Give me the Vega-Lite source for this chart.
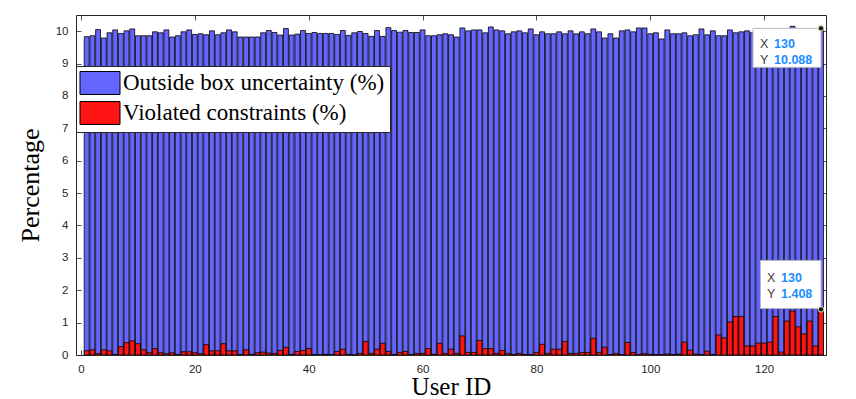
{
  "$schema": "https://vega.github.io/schema/vega-lite/v6.json",
  "autosize": {"type": "none"},
  "width": 750,
  "height": 340,
  "padding": {"left": 76, "top": 15, "right": 30, "bottom": 44},
  "background": "white",
  "config": {
    "view": {"stroke": null},
    "axis": {"grid": false, "zindex": 1, "labelFont": "Liberation Sans", "labelFontSize": 11.5, "labelColor": "#262626", "tickColor": "#262626", "domainColor": "#262626", "tickWidth": 0.8, "domainWidth": 1, "tickSize": -5}
  },
  "datasets": {
    "outside": [
      {"user":1,"pct":9.83},{"user":2,"pct":9.86},{"user":3,"pct":10.05},{"user":4,"pct":9.79},{"user":5,"pct":9.95},
      {"user":6,"pct":10.04},{"user":7,"pct":9.93},{"user":8,"pct":10.01},{"user":9,"pct":10.07},{"user":10,"pct":9.86},
      {"user":11,"pct":9.86},{"user":12,"pct":9.86},{"user":13,"pct":9.98},{"user":14,"pct":9.95},{"user":15,"pct":10.04},
      {"user":16,"pct":9.82},{"user":17,"pct":9.86},{"user":18,"pct":9.98},{"user":19,"pct":10.04},{"user":20,"pct":9.9},
      {"user":21,"pct":9.92},{"user":22,"pct":9.89},{"user":23,"pct":10.01},{"user":24,"pct":9.89},{"user":25,"pct":9.95},
      {"user":26,"pct":10.04},{"user":27,"pct":9.98},{"user":28,"pct":9.82},{"user":29,"pct":9.82},{"user":30,"pct":9.82},
      {"user":31,"pct":9.82},{"user":32,"pct":9.95},{"user":33,"pct":10.02},{"user":34,"pct":9.96},{"user":35,"pct":9.88},
      {"user":36,"pct":10.08},{"user":37,"pct":9.88},{"user":38,"pct":9.91},{"user":39,"pct":10.02},{"user":40,"pct":9.93},
      {"user":41,"pct":9.96},{"user":42,"pct":9.93},{"user":43,"pct":9.93},{"user":44,"pct":9.93},{"user":45,"pct":9.9},
      {"user":46,"pct":10.02},{"user":47,"pct":9.87},{"user":48,"pct":9.95},{"user":49,"pct":9.99},{"user":50,"pct":9.93},
      {"user":51,"pct":9.84},{"user":52,"pct":10.02},{"user":53,"pct":9.84},{"user":54,"pct":10.11},{"user":55,"pct":10.02},
      {"user":56,"pct":9.97},{"user":57,"pct":10.02},{"user":58,"pct":9.96},{"user":59,"pct":9.96},{"user":60,"pct":10.04},
      {"user":61,"pct":9.86},{"user":62,"pct":9.86},{"user":63,"pct":9.89},{"user":64,"pct":9.92},{"user":65,"pct":9.89},
      {"user":66,"pct":9.82},{"user":67,"pct":10.1},{"user":68,"pct":10.01},{"user":69,"pct":10.04},{"user":70,"pct":10.04},
      {"user":71,"pct":9.95},{"user":72,"pct":10.13},{"user":73,"pct":10.04},{"user":74,"pct":10.01},{"user":75,"pct":9.92},
      {"user":76,"pct":9.98},{"user":77,"pct":10.01},{"user":78,"pct":9.95},{"user":79,"pct":10.07},{"user":80,"pct":9.89},
      {"user":81,"pct":9.98},{"user":82,"pct":9.92},{"user":83,"pct":9.92},{"user":84,"pct":9.98},{"user":85,"pct":9.92},
      {"user":86,"pct":10.01},{"user":87,"pct":9.92},{"user":88,"pct":9.98},{"user":89,"pct":9.92},{"user":90,"pct":10.07},
      {"user":91,"pct":9.98},{"user":92,"pct":9.79},{"user":93,"pct":9.92},{"user":94,"pct":9.79},{"user":95,"pct":10.01},
      {"user":96,"pct":10.04},{"user":97,"pct":9.98},{"user":98,"pct":10.1},{"user":99,"pct":10.1},{"user":100,"pct":9.92},
      {"user":101,"pct":9.95},{"user":102,"pct":9.76},{"user":103,"pct":10.04},{"user":104,"pct":9.92},{"user":105,"pct":9.92},
      {"user":106,"pct":9.95},{"user":107,"pct":9.86},{"user":108,"pct":9.89},{"user":109,"pct":10.07},{"user":110,"pct":9.89},
      {"user":111,"pct":10.01},{"user":112,"pct":9.86},{"user":113,"pct":9.86},{"user":114,"pct":10.04},{"user":115,"pct":9.95},
      {"user":116,"pct":9.98},{"user":117,"pct":10.01},{"user":118,"pct":9.95},{"user":119,"pct":9.9},{"user":120,"pct":9.95},
      {"user":121,"pct":9.88},{"user":122,"pct":10.0},{"user":123,"pct":9.92},{"user":124,"pct":9.97},{"user":125,"pct":10.15},
      {"user":126,"pct":9.9},{"user":127,"pct":9.95},{"user":128,"pct":9.88},{"user":129,"pct":9.96},{"user":130,"pct":10.088}
    ],
    "violated": [
      {"user":1,"pct":0.13},{"user":2,"pct":0.16},{"user":3,"pct":0.04},{"user":4,"pct":0.16},{"user":5,"pct":0.13},
      {"user":6,"pct":0.01},{"user":7,"pct":0.26},{"user":8,"pct":0.38},{"user":9,"pct":0.44},{"user":10,"pct":0.35},
      {"user":11,"pct":0.16},{"user":12,"pct":0.07},{"user":13,"pct":0.2},{"user":14,"pct":0.07},{"user":15,"pct":0.04},
      {"user":16,"pct":0.07},{"user":17,"pct":0.01},{"user":18,"pct":0.1},{"user":19,"pct":0.1},{"user":20,"pct":0.07},
      {"user":21,"pct":0.04},{"user":22,"pct":0.32},{"user":23,"pct":0.13},{"user":24,"pct":0.13},{"user":25,"pct":0.35},
      {"user":26,"pct":0.13},{"user":27,"pct":0.13},{"user":28,"pct":0.01},{"user":29,"pct":0.16},{"user":30,"pct":0.02},
      {"user":31,"pct":0.07},{"user":32,"pct":0.09},{"user":33,"pct":0.06},{"user":34,"pct":0.05},{"user":35,"pct":0.14},
      {"user":36,"pct":0.24},{"user":37,"pct":0.02},{"user":38,"pct":0.11},{"user":39,"pct":0.14},{"user":40,"pct":0.2},
      {"user":41,"pct":0.01},{"user":42,"pct":0.0},{"user":43,"pct":0.02},{"user":44,"pct":0.0},{"user":45,"pct":0.11},
      {"user":46,"pct":0.18},{"user":47,"pct":0.02},{"user":48,"pct":0.0},{"user":49,"pct":0.05},{"user":50,"pct":0.42},
      {"user":51,"pct":0.05},{"user":52,"pct":0.18},{"user":53,"pct":0.36},{"user":54,"pct":0.11},{"user":55,"pct":0.01},
      {"user":56,"pct":0.08},{"user":57,"pct":0.11},{"user":58,"pct":0.01},{"user":59,"pct":0.05},{"user":60,"pct":0.05},
      {"user":61,"pct":0.2},{"user":62,"pct":0.02},{"user":63,"pct":0.36},{"user":64,"pct":0.05},{"user":65,"pct":0.18},
      {"user":66,"pct":0.05},{"user":67,"pct":0.59},{"user":68,"pct":0.08},{"user":69,"pct":0.08},{"user":70,"pct":0.45},
      {"user":71,"pct":0.2},{"user":72,"pct":0.2},{"user":73,"pct":0.05},{"user":74,"pct":0.14},{"user":75,"pct":0.05},
      {"user":76,"pct":0.01},{"user":77,"pct":0.05},{"user":78,"pct":0.01},{"user":79,"pct":0.01},{"user":80,"pct":0.08},
      {"user":81,"pct":0.33},{"user":82,"pct":0.05},{"user":83,"pct":0.18},{"user":84,"pct":0.18},{"user":85,"pct":0.42},
      {"user":86,"pct":0.05},{"user":87,"pct":0.05},{"user":88,"pct":0.08},{"user":89,"pct":0.08},{"user":90,"pct":0.52},
      {"user":91,"pct":0.08},{"user":92,"pct":0.24},{"user":93,"pct":0.01},{"user":94,"pct":0.05},{"user":95,"pct":0.01},
      {"user":96,"pct":0.39},{"user":97,"pct":0.08},{"user":98,"pct":0.01},{"user":99,"pct":0.04},{"user":100,"pct":0.02},
      {"user":101,"pct":0.01},{"user":102,"pct":0.01},{"user":103,"pct":0.03},{"user":104,"pct":0.01},{"user":105,"pct":0.03},
      {"user":106,"pct":0.4},{"user":107,"pct":0.15},{"user":108,"pct":0.03},{"user":109,"pct":0.0},{"user":110,"pct":0.12},
      {"user":111,"pct":0.01},{"user":112,"pct":0.62},{"user":113,"pct":0.53},{"user":114,"pct":1.02},{"user":115,"pct":1.19},
      {"user":116,"pct":1.19},{"user":117,"pct":0.28},{"user":118,"pct":0.28},{"user":119,"pct":0.37},{"user":120,"pct":0.37},
      {"user":121,"pct":0.4},{"user":122,"pct":1.19},{"user":123,"pct":0.09},{"user":124,"pct":1.05},{"user":125,"pct":1.36},
      {"user":126,"pct":0.87},{"user":127,"pct":0.65},{"user":128,"pct":1.05},{"user":129,"pct":0.28},{"user":130,"pct":1.408}
    ],
    "tips": [
      {"tip":"a","user":130,"pct":10.088},
      {"tip":"b","user":130,"pct":1.408}
    ]
  },
  "resolve": {"axis": {"x": "independent", "y": "independent"}},
  "layer": [
    {
      "data": {"name": "outside"},
      "mark": {"type": "bar", "orient": "vertical", "size": 4.9, "stroke": "#000000", "strokeWidth": 0.8, "clip": true, "opacity": 1},
      "encoding": {
        "x": {"field": "user", "type": "quantitative", "scale": {"domain": [0, 130], "nice": false, "zero": false},
          "axis": {"orient": "bottom", "values": [0, 20, 40, 60, 80, 100, 120], "labelPadding": 13, "title": "User ID", "titleFont": "Liberation Serif", "titleFontSize": 25, "titleFontWeight": "normal", "titleColor": "#000000", "titlePadding": 0}},
        "y": {"field": "pct", "type": "quantitative", "scale": {"domain": [0, 10.5], "nice": false},
          "axis": {"orient": "left", "values": [0,1,2,3,4,5,6,7,8,9,10], "labelPadding": 13, "title": "Percentage", "titleFont": "Liberation Serif", "titleFontSize": 26, "titleFontWeight": "normal", "titleColor": "#000000", "titlePadding": 12}},
        "color": {"datum": "Outside box uncertainty (%)", "type": "nominal",
          "scale": {"domain": ["Outside box uncertainty (%)", "Violated constraints (%)"], "range": ["#6464ff", "#ff1414"]},
          "legend": {"orient": "none", "legendX": 0, "legendY": 51, "title": null, "fillColor": "#ffffff", "strokeColor": "#262626", "padding": 5, "zindex": 2,
            "symbolType": "M-1.74,-1H1.74V1H-1.74Z", "symbolSize": 529, "symbolStrokeColor": "#000000", "symbolStrokeWidth": 1, "symbolOpacity": 1, "symbolOffset": 7,
            "labelFont": "Liberation Serif", "labelFontSize": 23, "labelColor": "#000000", "labelOffset": 11, "rowPadding": 2, "labelLimit": 400}}
      }
    },
    {
      "data": {"name": "violated"},
      "mark": {"type": "bar", "orient": "vertical", "size": 4.9, "stroke": "#000000", "strokeWidth": 0.8, "clip": true, "opacity": 1},
      "encoding": {
        "x": {"field": "user", "type": "quantitative", "scale": {"domain": [0, 130], "nice": false, "zero": false},
          "axis": {"orient": "top", "values": [0, 20, 40, 60, 80, 100, 120], "labels": false, "title": null}},
        "y": {"field": "pct", "type": "quantitative", "scale": {"domain": [0, 10.5], "nice": false},
          "axis": {"orient": "right", "values": [0,1,2,3,4,5,6,7,8,9,10], "labels": false, "title": null}},
        "color": {"datum": "Violated constraints (%)", "type": "nominal"}
      }
    },
    {
      "data": {"name": "tips"},
      "transform": [{"filter": "datum.tip === 'a'"}],
      "mark": {"type": "point", "shape": "M-6.8,0H0V3.9H-6.8Z", "size": 400, "filled": true, "fill": "#ffffff", "stroke": "#b8b8c0", "strokeWidth": 1, "opacity": 1, "strokeOpacity": 1},
      "encoding": {"x": {"field": "user", "type": "quantitative", "axis": null}, "y": {"field": "pct", "type": "quantitative", "axis": null}}
    },
    {
      "data": {"name": "tips"},
      "transform": [{"filter": "datum.tip === 'b'"}],
      "mark": {"type": "point", "shape": "M-6.05,-4.9H0V-0.1H-6.05Z", "size": 400, "filled": true, "fill": "#ffffff", "stroke": "#b8b8c0", "strokeWidth": 1, "opacity": 1, "strokeOpacity": 1},
      "encoding": {"x": {"field": "user", "type": "quantitative", "axis": null}, "y": {"field": "pct", "type": "quantitative", "axis": null}}
    },
    {
      "data": {"name": "tips"},
      "transform": [{"filter": "datum.tip === 'a'"}],
      "mark": {"type": "text", "text": ["X", "Y"], "align": "left", "baseline": "middle", "dx": -61, "dy": 16, "lineHeight": 16, "font": "Liberation Sans", "fontSize": 12.5, "color": "#404040"},
      "encoding": {"x": {"field": "user", "type": "quantitative", "axis": null}, "y": {"field": "pct", "type": "quantitative", "axis": null}}
    },
    {
      "data": {"name": "tips"},
      "transform": [{"filter": "datum.tip === 'a'"}],
      "mark": {"type": "text", "align": "left", "baseline": "middle", "dx": -47, "dy": 16, "font": "Liberation Sans", "fontSize": 12.5, "fontWeight": "bold", "color": "#1a8cff"},
      "encoding": {"x": {"field": "user", "type": "quantitative", "axis": null}, "y": {"field": "pct", "type": "quantitative", "axis": null}, "text": {"field": "user", "type": "quantitative", "format": "d"}}
    },
    {
      "data": {"name": "tips"},
      "transform": [{"filter": "datum.tip === 'a'"}],
      "mark": {"type": "text", "align": "left", "baseline": "middle", "dx": -47, "dy": 32, "font": "Liberation Sans", "fontSize": 12.5, "fontWeight": "bold", "color": "#1a8cff"},
      "encoding": {"x": {"field": "user", "type": "quantitative", "axis": null}, "y": {"field": "pct", "type": "quantitative", "axis": null}, "text": {"field": "pct", "type": "quantitative", "format": ".3f"}}
    },
    {
      "data": {"name": "tips"},
      "transform": [{"filter": "datum.tip === 'b'"}],
      "mark": {"type": "text", "text": ["X", "Y"], "align": "left", "baseline": "middle", "dx": -54, "dy": -31, "lineHeight": 16, "font": "Liberation Sans", "fontSize": 12.5, "color": "#404040"},
      "encoding": {"x": {"field": "user", "type": "quantitative", "axis": null}, "y": {"field": "pct", "type": "quantitative", "axis": null}}
    },
    {
      "data": {"name": "tips"},
      "transform": [{"filter": "datum.tip === 'b'"}],
      "mark": {"type": "text", "align": "left", "baseline": "middle", "dx": -40, "dy": -31, "font": "Liberation Sans", "fontSize": 12.5, "fontWeight": "bold", "color": "#1a8cff"},
      "encoding": {"x": {"field": "user", "type": "quantitative", "axis": null}, "y": {"field": "pct", "type": "quantitative", "axis": null}, "text": {"field": "user", "type": "quantitative", "format": "d"}}
    },
    {
      "data": {"name": "tips"},
      "transform": [{"filter": "datum.tip === 'b'"}],
      "mark": {"type": "text", "align": "left", "baseline": "middle", "dx": -40, "dy": -15, "font": "Liberation Sans", "fontSize": 12.5, "fontWeight": "bold", "color": "#1a8cff"},
      "encoding": {"x": {"field": "user", "type": "quantitative", "axis": null}, "y": {"field": "pct", "type": "quantitative", "axis": null}, "text": {"field": "pct", "type": "quantitative", "format": ".3f"}}
    },
    {
      "data": {"name": "tips"},
      "mark": {"type": "point", "shape": "circle", "size": 30, "filled": true, "fill": "#1a1a1a", "stroke": "#e8e4b0", "strokeWidth": 1, "opacity": 1},
      "encoding": {"x": {"field": "user", "type": "quantitative", "axis": null}, "y": {"field": "pct", "type": "quantitative", "axis": null}}
    }
  ]
}
